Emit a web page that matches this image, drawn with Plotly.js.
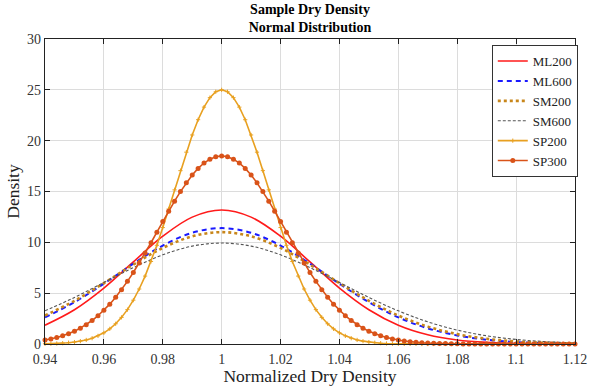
<!DOCTYPE html>
<html>
<head>
<meta charset="utf-8">
<script src="https://cdn.plot.ly/plotly-3.0.1.min.js"></script>
<style>html,body{margin:0;padding:0;background:#fff;}#chart{width:590px;height:386px;}</style>
</head>
<body>
<div id="chart"></div>
<script>
// Normalized dry density grid (coarse, for the smooth curves)
const xCoarse = [0.94,0.95,0.96,0.97,0.98,0.99,1.00,1.01,1.02,1.03,1.04,1.05,1.06,1.07,1.08,1.09,1.10,1.11,1.12];
// Fine grid (for the marked curves)
const xFine = [0.940,0.942,0.944,0.946,0.948,0.950,0.952,0.954,0.956,0.958,
  0.960,0.962,0.964,0.966,0.968,0.970,0.972,0.974,0.976,0.978,
  0.980,0.982,0.984,0.986,0.988,0.990,0.992,0.994,0.996,0.998,
  1.000,1.002,1.004,1.006,1.008,1.010,1.012,1.014,1.016,1.018,
  1.020,1.022,1.024,1.026,1.028,1.030,1.032,1.034,1.036,1.038,
  1.040,1.042,1.044,1.046,1.048,1.050,1.052,1.054,1.056,1.058,
  1.060,1.062,1.064,1.066,1.068,1.070,1.072,1.074,1.076,1.078,
  1.080,1.082,1.084,1.086,1.088,1.090,1.092,1.094,1.096,1.098,
  1.100,1.102,1.104,1.106,1.108,1.110,1.112,1.114,1.116,1.118,1.120];

const ML200 = [1.85,3.37,5.50,8.07,10.60,12.48,13.18,12.48,10.60,8.07,5.50,3.37,1.85,0.91,0.40,0.16,0.06,0.02,0.01];
const ML600 = [2.62,4.11,5.93,7.90,9.68,10.94,11.40,10.94,9.68,7.90,5.93,4.11,2.62,1.54,0.84,0.42,0.19,0.08,0.03];
const SM200 = [2.80,4.25,5.99,7.81,9.45,10.59,11.00,10.59,9.45,7.81,5.99,4.25,2.80,1.71,0.97,0.51,0.25,0.11,0.05];
const SM600 = [3.26,4.58,6.05,7.51,8.77,9.63,9.93,9.63,8.77,7.51,6.05,4.58,3.26,2.18,1.37,0.81,0.45,0.23,0.11];

const SP200 = [0.02,0.03,0.05,0.08,0.13,0.19,0.28,0.40,0.57,0.80,
  1.10,1.49,1.99,2.62,3.38,4.31,5.41,6.68,8.12,9.71,
  11.45,13.28,15.16,17.05,18.87,20.56,22.06,23.30,24.23,24.81,
  25.00,
  24.81,24.23,23.30,22.06,20.56,18.87,17.05,15.16,13.28,11.45,
  9.71,8.12,6.68,5.41,4.31,3.38,2.62,1.99,1.49,1.10,
  0.80,0.57,0.40,0.28,0.19,0.13,0.08,0.05,0.03,0.02,
  0.01,0.01,0.01,0.00,0.00,0.00,0.00,0.00,0.00,0.00,
  0.00,0.00,0.00,0.00,0.00,0.00,0.00,0.00,0.00,0.00,
  0.00,0.00,0.00,0.00,0.00,0.00,0.00,0.00,0.00,0.00];

const SP300 = [0.39,0.50,0.64,0.81,1.01,1.26,1.56,1.90,2.31,2.78,
  3.31,3.92,4.60,5.34,6.16,7.03,7.97,8.95,9.96,11.00,
  12.04,13.06,14.05,14.99,15.85,16.62,17.27,17.80,18.18,18.42,
  18.50,
  18.42,18.18,17.80,17.27,16.62,15.85,14.99,14.05,13.06,12.04,
  11.00,9.96,8.95,7.97,7.03,6.16,5.34,4.60,3.92,3.31,
  2.78,2.31,1.90,1.56,1.26,1.01,0.81,0.64,0.50,0.39,
  0.30,0.23,0.17,0.13,0.10,0.07,0.05,0.04,0.03,0.02,
  0.01,0.01,0.01,0.01,0.00,0.00,0.00,0.00,0.00,0.00,
  0.00,0.00,0.00,0.00,0.00,0.00,0.00,0.00,0.00,0.00];

const xTickVals = [0.94,0.96,0.98,1.00,1.02,1.04,1.06,1.08,1.10,1.12];
const xTickText = ['0.94','0.96','0.98','1','1.02','1.04','1.06','1.08','1.1','1.12'];
const yTickVals = [0,5,10,15,20,25,30];

const serif = '"Liberation Serif", "Times New Roman", serif';

const traces = [
  {x:xCoarse, y:ML200, name:'ML200', mode:'lines', line:{color:'#ff1a1a', width:1.6, shape:'spline'}},
  {x:xCoarse, y:ML600, name:'ML600', mode:'lines', line:{color:'#1a1aff', width:2, dash:'5px,4px', shape:'spline'}},
  {x:xCoarse, y:SM200, name:'SM200', mode:'lines', line:{color:'#c8861a', width:2.6, dash:'dot', shape:'spline'}},
  {x:xCoarse, y:SM600, name:'SM600', mode:'lines', line:{color:'#555555', width:1.1, dash:'3px,2px', shape:'spline'}},
  {x:xFine, y:SP200, name:'SP200', mode:'lines+markers', line:{color:'#e8a020', width:1.6},
    marker:{symbol:'cross-thin', size:3, color:'#e8a020', line:{color:'#e8a020', width:1}}, cliponaxis:false},
  {x:xFine, y:SP300, name:'SP300', mode:'lines+markers', line:{color:'#d95319', width:1.6},
    marker:{symbol:'circle', size:5, color:'#d95319'}, cliponaxis:false}
];

const layout = {
  width:590, height:386,
  margin:{l:45, r:12, t:39, b:42},
  paper_bgcolor:'#ffffff', plot_bgcolor:'#ffffff',
  font:{family:serif, size:13, color:'#222'},
  title:{text:'<b>Sample Dry Density</b><br><b>Normal Distribution</b>', font:{family:serif, size:14, color:'#000'},
    x:0.5, xref:'paper', xanchor:'center', y:0.965, yref:'container', yanchor:'middle'},
  xaxis:{range:[0.9399999,1.1200001], tickvals:xTickVals, ticktext:xTickText, showgrid:true, gridcolor:'#dcdcdc', gridwidth:1,
    showline:true, linecolor:'#222', linewidth:1.2, mirror:'ticks', ticks:'inside', ticklen:5, tickcolor:'#222',
    zeroline:false, tickfont:{family:serif, size:14, color:'#333'}, ticklabelstandoff:2, ticklabeloverflow:'allow',
    title:{text:'Normalized Dry Density', font:{family:serif, size:17.5, color:'#222'}, standoff:0}},
  yaxis:{range:[0,30], tickvals:yTickVals, showgrid:true, gridcolor:'#dcdcdc', gridwidth:1,
    showline:true, linecolor:'#222', linewidth:1.2, mirror:'ticks', ticks:'inside', ticklen:5, tickcolor:'#222',
    zeroline:false, tickfont:{family:serif, size:14, color:'#333'},
    title:{text:'Density', font:{family:serif, size:17.5, color:'#222'}, standoff:2}},
  legend:{x:0.843, y:0.98, xanchor:'left', yanchor:'top', bgcolor:'#ffffff', bordercolor:'#333', borderwidth:1,
    font:{family:serif, size:13, color:'#222'}, tracegroupgap:0, itemwidth:30},
  showlegend:true
};

Plotly.newPlot('chart', traces, layout, {displayModeBar:false, staticPlot:true});
</script>
</body>
</html>
